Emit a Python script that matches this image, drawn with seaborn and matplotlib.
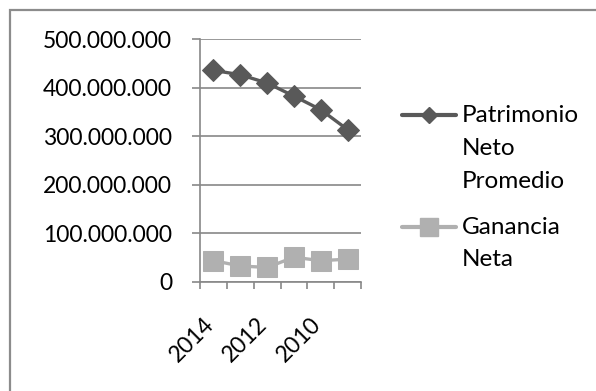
import matplotlib
matplotlib.use("Agg")
import matplotlib.pyplot as plt
from matplotlib.lines import Line2D
from matplotlib.patches import Rectangle
from matplotlib.ticker import FuncFormatter, FixedLocator
from matplotlib.transforms import ScaledTranslation
import seaborn as sns
import pandas as pd

# Data series
years = ["2014", "2013", "2012", "2011", "2010", "2009"]
patrimonio_neto = [436e6, 427e6, 410e6, 383e6, 355e6, 314e6]
ganancia_neta = [44e6, 33e6, 30e6, 51e6, 44e6, 47e6]
series_labels = ["Patrimonio\nNeto\nPromedio", "Ganancia\nNeta"]
shown_years = ["2014", "2012", "2010"]

sns.set_theme(style="white")
plt.rcParams["font.family"] = ["Lato", "DejaVu Sans"]

W, H, DPI = 596, 391, 100
fig = plt.figure(figsize=(W / DPI, H / DPI), dpi=DPI)
ax = fig.add_axes([200 / W, 1 - 282 / H, 161 / W, (282 - 39.3) / H])

df = pd.DataFrame({"year": years, "patrimonio": patrimonio_neto, "ganancia": ganancia_neta})
df["pos"] = range(len(df))

dark = "#595959"
light = "#b0b0b0"
grid_c = "#888888"

sns.lineplot(data=df, x="pos", y="patrimonio", ax=ax, color=dark, linewidth=2.4,
             marker="D", markersize=11.5, markeredgecolor=dark, markerfacecolor=dark)
sns.lineplot(data=df, x="pos", y="ganancia", ax=ax, color=light, linewidth=2.4,
             marker="s", markersize=14, markeredgecolor=light, markerfacecolor=light)

ax.set_xlim(-0.5, len(years) - 0.5)
ax.set_ylim(0, 500e6)
ax.set_xlabel("")
ax.set_ylabel("")

# y axis: gridlines every 100 million, dotted thousands separator
ax.set_yticks([0, 100e6, 200e6, 300e6, 400e6, 500e6])
ax.yaxis.set_major_formatter(FuncFormatter(lambda v, p: f"{int(v):,}".replace(",", ".")))
ax.yaxis.grid(True, color=grid_c, linewidth=1.2)
ax.tick_params(axis="y", which="major", length=6, width=1.2, color=grid_c,
               direction="out", pad=14, labelsize=16.5, labelcolor="black", left=True)

# x axis: boundary ticks between categories, every other year labelled
ax.xaxis.set_minor_locator(FixedLocator([i - 0.5 for i in range(len(years) + 1)]))
ax.set_xticks(list(df["pos"]))
ax.set_xticklabels([y if y in shown_years else "" for y in years])
ax.tick_params(axis="x", which="major", length=0, pad=28, labelsize=16.5, labelcolor="black")
ax.tick_params(axis="x", which="minor", length=5, width=1.2, color=grid_c,
               direction="out", bottom=True)
shift = ScaledTranslation(-3 / DPI, 0, fig.dpi_scale_trans)
for lbl in ax.get_xticklabels():
    lbl.set_rotation(45)
    lbl.set_rotation_mode("anchor")
    lbl.set_ha("right")
    lbl.set_va("center")
    lbl.set_transform(lbl.get_transform() + shift)

for side in ["top", "right"]:
    ax.spines[side].set_visible(False)
for side in ["left", "bottom"]:
    ax.spines[side].set_color(grid_c)
    ax.spines[side].set_linewidth(1.2)

# Legend drawn at the right of the plot area
def fx(px):
    return px / W

def fy(py):
    return 1 - py / H

legend_items = [
    (series_labels[0], dark, "D", 8, 115),
    (series_labels[1], light, "s", 12.5, 227),
]
for text, col, mk, ms, py in legend_items:
    fig.add_artist(Line2D([fx(402), fx(456)], [fy(py), fy(py)], color=col, linewidth=3,
                          solid_capstyle="round", transform=fig.transFigure))
    fig.add_artist(Line2D([fx(429)], [fy(py)], color=col, marker=mk, markersize=ms,
                          linestyle="none", transform=fig.transFigure))
    for i, line in enumerate(text.split("\n")):
        fig.text(fx(462), fy(py + 33 * i), line, fontsize=17.5, color="black",
                 ha="left", va="center")

# Chart area frame
fig.add_artist(Rectangle((fx(10), fy(400)), fx(600), fy(10) - fy(400), fill=False,
                         edgecolor="#8c8c8c", linewidth=1.6, transform=fig.transFigure))

fig.savefig("out.png", dpi=DPI, facecolor="white")
